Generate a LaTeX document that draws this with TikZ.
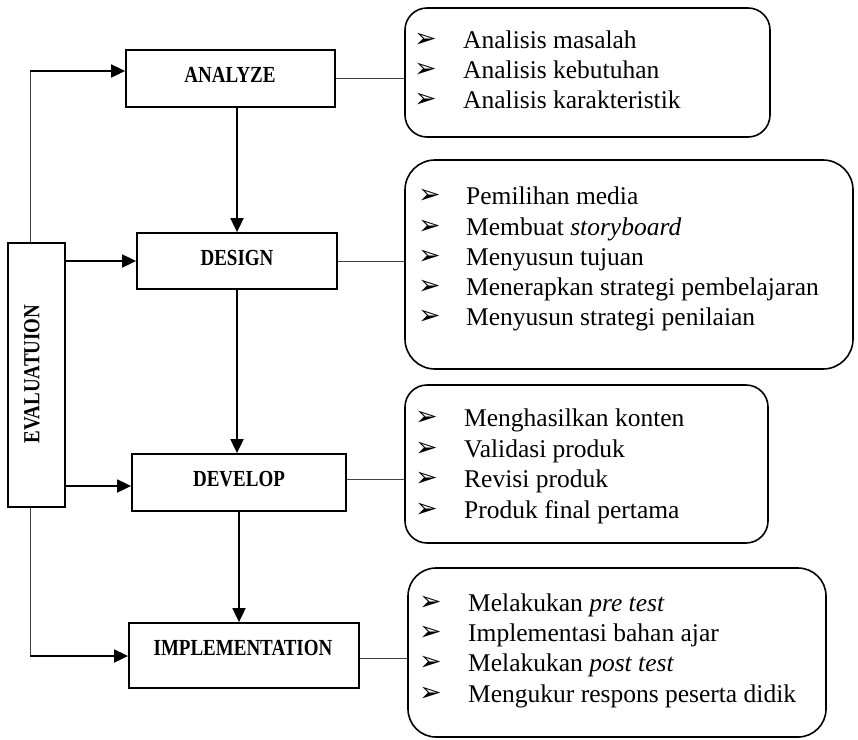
\documentclass[tikz,border=0pt]{standalone}
\usepackage{fontspec}
\setmainfont{Liberation Serif}
\newfontfamily\symfont{DejaVu Sans}
\usetikzlibrary{arrows.meta}
\newcommand\hdr[1]{\scalebox{0.95}[1.15]{\fontsize{20}{22}\selectfont\bfseries #1}}
\tikzset{
  stage/.style={draw, line width=1.8pt, inner sep=0pt},
  infobox/.style={draw, line width=1.6pt, rounded corners=22pt, inner sep=0pt},
  itemtext/.style={anchor=base west, inner sep=0pt, font=\fontsize{25.5}{28}\selectfont},
  bul/.style={anchor=west, inner sep=0pt, font=\symfont\fontsize{27}{27}\selectfont},
  flow/.style={line width=1.8pt, -{Triangle[length=14pt,width=13pt]}},
  link/.style={line width=0.8pt, draw=black!75}
}
\begin{document}
\begin{tikzpicture}[x=1pt,y=-1pt]
\useasboundingbox (0,0) rectangle (858,739);
% stage boxes
\node[stage, minimum width=209pt, minimum height=57pt] (analyze) at (230.5,78.5) {};
\node[inner sep=0pt] (analyzetext) at (230,75) {\hdr{ANALYZE}};
\node[stage, minimum width=200pt, minimum height=56pt] (design) at (237,261) {};
\node[inner sep=0pt] (designtext) at (237,258) {\hdr{DESIGN}};
\node[stage, minimum width=214pt, minimum height=57pt] (develop) at (239,482.5) {};
\node[inner sep=0pt] (developtext) at (239,479) {\hdr{DEVELOP}};
\node[stage, minimum width=230pt, minimum height=65pt] (impl) at (244,655.5) {};
\node[inner sep=0pt] (impltext) at (243,648) {\hdr{IMPLEMENTATION}};
\node[stage, minimum width=57pt, minimum height=264pt] (eval) at (36.5,375) {};
\node[inner sep=0pt, rotate=90] (evaltext) at (32,374) {\hdr{EVALUATUION}};
% info boxes
\node[infobox, minimum width=365pt, minimum height=129pt] (box1) at (587.5,72.5) {};
\node[infobox, rounded corners=30pt, minimum width=448pt, minimum height=209pt] (box2) at (629,264.5) {};
\node[infobox, minimum width=363pt, minimum height=158pt] (box3) at (586.5,464) {};
\node[infobox, rounded corners=28pt, minimum width=418pt, minimum height=169pt] (box4) at (617,652.5) {};
% links stage -> info
\draw[link] (analyze.east) -- (box1.west |- analyze.east);
\draw[link] (design.east) -- (box2.west |- design.east);
\draw[link] (develop.east |- 0,479) -- (box3.west |- 0,479);
\draw[link] (impl.east |- 0,658) -- (box4.west |- 0,658);
% flow arrows
\draw[flow] (design.north |- analyze.south) -- (design.north);
\draw[flow] (design.south) -- (design.south |- develop.north);
\draw[flow] (develop.south) -- (develop.south |- impl.north);
% evaluation arrows
\coordinate (topc) at (30,71);
\coordinate (botc) at (30,656);
\draw[link] (eval.north -| topc) -- (topc);
\draw[flow] (topc) -- (analyze.west |- topc);
\draw[link] (eval.south -| botc) -- (botc);
\draw[flow] (botc) -- (impl.west |- botc);
\draw[flow] (eval.east |- design.west) -- (design.west);
\draw[flow] (eval.east |- 0,486) -- (develop.west |- 0,486);
% box1 items
\node[bul] (b11) at (414,40) {➢}; \node[itemtext] (t11) at (463,48) {Analisis masalah};
\node[bul] (b12) at (414,70) {➢}; \node[itemtext] (t12) at (463,78) {Analisis kebutuhan};
\node[bul] (b13) at (414,100) {➢}; \node[itemtext] (t13) at (463,108) {Analisis karakteristik};
% box2 items
\node[bul] (b21) at (418,196) {➢}; \node[itemtext] (t21) at (466,204) {Pemilihan media};
\node[bul] (b22) at (418,227) {➢}; \node[itemtext] (t22) at (466,235) {Membuat \textit{storyboard}};
\node[bul] (b23) at (418,257) {➢}; \node[itemtext] (t23) at (466,265) {Menyusun tujuan};
\node[bul] (b24) at (418,287) {➢}; \node[itemtext] (t24) at (466,295) {Menerapkan strategi pembelajaran};
\node[bul] (b25) at (418,317) {➢}; \node[itemtext] (t25) at (466,325) {Menyusun strategi penilaian};
% box3 items
\node[bul] (b31) at (415,418) {➢}; \node[itemtext] (t31) at (464,426) {Menghasilkan konten};
\node[bul] (b32) at (415,449) {➢}; \node[itemtext] (t32) at (464,457) {Validasi produk};
\node[bul] (b33) at (415,479) {➢}; \node[itemtext] (t33) at (464,487) {Revisi produk};
\node[bul] (b34) at (415,510) {➢}; \node[itemtext] (t34) at (464,518) {Produk final pertama};
% box4 items
\node[bul] (b41) at (419,603) {➢}; \node[itemtext] (t41) at (468,611) {Melakukan \textit{pre test}};
\node[bul] (b42) at (419,633) {➢}; \node[itemtext] (t42) at (468,641) {Implementasi bahan ajar};
\node[bul] (b43) at (419,663) {➢}; \node[itemtext] (t43) at (468,671) {Melakukan \textit{post test}};
\node[bul] (b44) at (419,694) {➢}; \node[itemtext] (t44) at (468,702) {Mengukur respons peserta didik};
\end{tikzpicture}
\end{document}
